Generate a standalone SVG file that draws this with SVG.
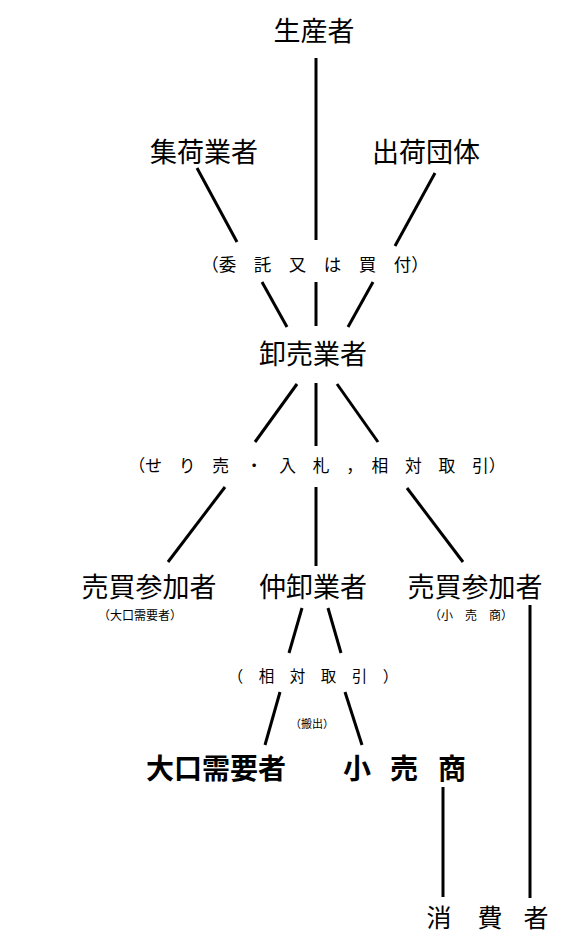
<svg xmlns="http://www.w3.org/2000/svg" width="565" height="943" viewBox="0 0 565 943">
<style>
text{font-family:"Noto Sans CJK JP","Noto Sans CJK SC",sans-serif;fill:#000;text-anchor:middle}
.n{font-size:27px}
.b{font-size:28px;font-weight:bold}
.c line{stroke:#000;stroke-width:3}
</style>
<rect width="565" height="943" fill="#fff"/>
<g class="c" id="connectors">
<line x1="316" y1="58" x2="316" y2="240"/>
<line x1="197" y1="168" x2="237" y2="242"/>
<line x1="435" y1="173" x2="395" y2="246"/>
<line x1="262" y1="282" x2="287" y2="327"/>
<line x1="316" y1="282" x2="316" y2="326"/>
<line x1="373" y1="282" x2="348" y2="327"/>
<line x1="297" y1="384" x2="255" y2="442"/>
<line x1="316" y1="383" x2="316" y2="446"/>
<line x1="337" y1="384" x2="378" y2="442"/>
<line x1="225" y1="487" x2="168" y2="562"/>
<line x1="316" y1="487" x2="316" y2="566"/>
<line x1="407" y1="488" x2="463" y2="562"/>
<line x1="302" y1="608" x2="289" y2="653"/>
<line x1="328" y1="608" x2="341" y2="653"/>
<line x1="530" y1="605" x2="530" y2="898"/>
<line x1="280" y1="692" x2="265" y2="745"/>
<line x1="345" y1="692" x2="362" y2="745"/>
<line x1="443" y1="787" x2="443" y2="897"/>
</g>
<g id="producer"><text class="n" x="314" y="41">生産者</text></g>
<g id="collector"><text class="n" x="204" y="162">集荷業者</text></g>
<g id="shipper"><text class="n" x="426" y="162">出荷団体</text></g>
<g id="label-consign"><text x="315" y="271" font-size="17.5">（委　託　又　は　買　付）</text></g>
<g id="wholesaler"><text class="n" x="313" y="364">卸売業者</text></g>
<g id="label-auction"><text x="317" y="472" font-size="16.75">（せ　り　売　・　入　札　，　相　対　取　引）</text></g>
<g id="buyer-left"><text class="n" x="149" y="597">売買参加者</text><text x="140" y="620" font-size="12">（大口需要者）</text></g>
<g id="middle-wholesaler"><text class="n" x="313" y="597">仲卸業者</text></g>
<g id="buyer-right"><text class="n" x="475" y="597">売買参加者</text><text x="471" y="620" font-size="12">（小　売　商）</text></g>
<g id="label-negotiated"><text x="313" y="682" font-size="15.5">（　相　対　取　引　）</text></g>
<g id="label-carry"><text x="312" y="728" font-size="11">（搬出）</text></g>
<g id="large-consumer"><text class="b" x="216" y="779">大口需要者</text></g>
<g id="retailer"><text class="b" x="357" y="779">小</text><text class="b" x="404" y="779">売</text><text class="b" x="452" y="779">商</text></g>
<g id="consumer"><text x="439" y="927" font-size="25">消</text><text x="490" y="927" font-size="25">費</text><text x="536" y="927" font-size="25">者</text></g>
</svg>
